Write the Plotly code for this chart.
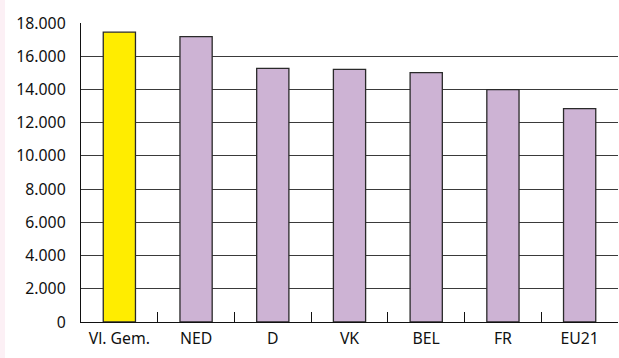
import plotly.graph_objects as go

landen = ["Vl. Gem.", "NED", "D", "VK", "BEL", "FR", "EU21"]
waarden = [17450, 17180, 15270, 15210, 15010, 13990, 12840]
kleuren = ["#FFED00", "#CDB3D4", "#CDB3D4", "#CDB3D4", "#CDB3D4", "#CDB3D4", "#CDB3D4"]
y_ticks = [0, 2000, 4000, 6000, 8000, 10000, 12000, 14000, 16000, 18000]

fig = go.Figure()
fig.add_trace(go.Bar(
    x=landen, y=waarden,
    marker=dict(color=kleuren, line=dict(color="#2a2a2a", width=1.3)),
    width=0.42,
    hoverinfo="x+y",
))

# faint pink strip on the left edge of the picture
fig.add_shape(type="rect", xref="paper", yref="paper",
              x0=-81/537, x1=-76/537, y0=-36/299, y1=1 + 23/299,
              fillcolor="#fcf0f5", line=dict(width=0), layer="below")

fig.update_layout(
    width=619, height=358,
    margin=dict(l=81, r=1, t=23, b=36),
    paper_bgcolor="white", plot_bgcolor="white",
    separators=",.",
    showlegend=False,
    font=dict(family="Noto Sans", size=15.8, color="#111111"),
)
fig.update_xaxes(
    type="category",
    showline=True, linecolor="#111111", linewidth=1.3,
    ticks="inside", tickson="boundaries", ticklen=10,
    tickcolor="#111111", tickwidth=1.2,
    showgrid=False,
    ticklabelstandoff=2,
)
fig.update_yaxes(
    range=[0, 18000], tickvals=y_ticks, tickformat=",d",
    showline=True, linecolor="#111111", linewidth=1.3,
    showgrid=True, gridcolor="#3a3a3a", gridwidth=1.1,
    zeroline=False, ticks="",
    ticklabelstandoff=11,
)

# remove the default body margin so the figure sits at the page corner
fig.write_html("out.html", config={"displayModeBar": False},
               post_script="document.body.style.margin='0';")
